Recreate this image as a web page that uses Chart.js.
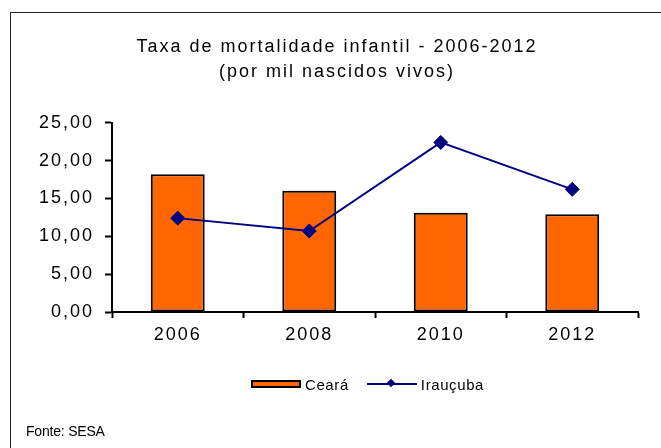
<!DOCTYPE html>
<html>
<head>
<meta charset="utf-8">
<script src="https://cdn.jsdelivr.net/npm/chart.js@4"></script>
<style>
    body { margin: 0; background: #fff; }
    #wrap { position: relative; width: 661px; height: 448px; overflow: hidden; }
    #frame { position: absolute; left: 10px; top: 12px; width: 700px; height: 500px; border: 1px solid #222; pointer-events: none; }
    #legend { position: absolute; left: 251px; top: 375px; height: 18px; display: flex; align-items: center;
              font-family: "Liberation Sans", Arial, sans-serif; font-size: 15px; letter-spacing: 0.6px; color: #000; }
    #legend .item { display: flex; align-items: center; margin-right: 18px; }
    #legend .swatch { position: relative; width: 50px; box-sizing: border-box; margin-right: 4px; }
    #legend .diamond { position: absolute; left: 21px; top: -3px; width: 6px; height: 6px; transform: rotate(45deg); }
    #source { position: absolute; left: 26px; top: 423px; font-family: "Liberation Sans", Arial, sans-serif;
              font-size: 14px; line-height: 16px; color: #000; letter-spacing: -0.2px; }
</style>
</head>
<body>
<div id="wrap">
    <canvas id="mortalityChart" width="661" height="448"></canvas>
    <div id="frame"></div>
    <div id="legend"></div>
    <div id="source">Fonte: SESA</div>
</div>
<script>
/* Chart data */
var years = ['2006', '2008', '2010', '2012'];
var cearaValues = [18.2, 16.0, 13.1, 12.9];
var iraucubaValues = [12.4, 10.7, 22.4, 16.2];
var titleLines = ['Taxa de mortalidade infantil - 2006-2012', '(por mil nascidos vivos)'];

/* Colors */
var orange_color = '#FF6600';
var navy_color = '#000080';
var black_color = '#000000';

var fontFamily = '"Liberation Sans", Arial, sans-serif';

// Excel-like wide letter spacing on the canvas text
var letterSpacingPlugin = {
    id: 'letterSpacing',
    beforeUpdate: function(chart) { chart.ctx.letterSpacing = '2px'; },
    beforeDraw: function(chart) { chart.ctx.letterSpacing = '2px'; }
};

var ctx = document.getElementById('mortalityChart');

var chart = new Chart(ctx, {
    data: {
        labels: years,
        datasets: [{
            type: 'bar',
            label: 'Ceará',
            data: cearaValues,
            backgroundColor: orange_color,
            borderColor: black_color,
            borderWidth: 2,
            borderSkipped: false,
            barPercentage: 0.41,
            categoryPercentage: 1,
            order: 1
        }, {
            type: 'line',
            label: 'Irauçuba',
            data: iraucubaValues,
            borderColor: navy_color,
            backgroundColor: navy_color,
            borderWidth: 2,
            tension: 0,
            pointStyle: 'rectRot',
            pointRadius: 7,
            pointBorderWidth: 1,
            order: 0
        }]
    },
    options: {
        responsive: false,
        animation: false,
        layout: {
            padding: { left: 36, right: 23, top: 0, bottom: 102 }
        },
        plugins: {
            legend: { display: false },
            tooltip: { enabled: false },
            title: {
                display: true,
                text: titleLines,
                color: black_color,
                font: { family: fontFamily, size: 18, weight: 'normal', lineHeight: 1.39 },
                padding: { top: 34.5, bottom: 38.2 }
            }
        },
        scales: {
            x: {
                grid: {
                    offset: true,
                    drawOnChartArea: false,
                    drawTicks: true,
                    tickLength: 6,
                    tickWidth: 2,
                    tickColor: black_color
                },
                border: { color: black_color, width: 2 },
                ticks: {
                    color: black_color,
                    padding: 6,
                    font: { family: fontFamily, size: 18 }
                },
                afterFit: function(scale) { scale.height = 34; }
            },
            y: {
                min: 0,
                max: 25,
                grid: {
                    drawOnChartArea: false,
                    drawTicks: true,
                    tickLength: 7,
                    tickWidth: 2,
                    tickColor: black_color
                },
                border: { color: black_color, width: 2 },
                ticks: {
                    stepSize: 5,
                    color: black_color,
                    padding: 11,
                    font: { family: fontFamily, size: 18 },
                    callback: function(value) {
                        return value.toFixed(2).replace('.', ',');
                    }
                },
                afterFit: function(scale) { scale.width = 76; }
            }
        }
    },
    plugins: [letterSpacingPlugin]
});

/* HTML legend built from the datasets */
var legend = document.getElementById('legend');
chart.data.datasets.forEach(function(ds) {
    var item = document.createElement('span');
    item.className = 'item';
    var swatch = document.createElement('span');
    swatch.className = 'swatch';
    if (ds.type === 'bar') {
        swatch.style.height = '8px';
        swatch.style.background = ds.backgroundColor;
        swatch.style.border = '2px solid ' + ds.borderColor;
    } else {
        swatch.style.height = '2px';
        swatch.style.background = ds.borderColor;
        var diamond = document.createElement('span');
        diamond.className = 'diamond';
        diamond.style.background = ds.backgroundColor;
        swatch.appendChild(diamond);
    }
    var text = document.createElement('span');
    text.textContent = ds.label;
    item.appendChild(swatch);
    item.appendChild(text);
    legend.appendChild(item);
});
</script>
</body>
</html>
